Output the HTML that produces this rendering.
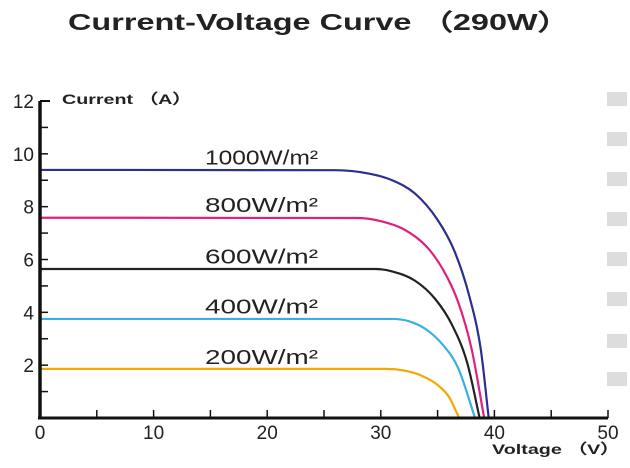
<!DOCTYPE html>
<html><head><meta charset="utf-8"><style>
body{margin:0;background:#fff;width:630px;height:463px;overflow:hidden;font-family:"Liberation Sans",Arial,sans-serif}
</style></head><body>
<svg width="630" height="463" xmlns="http://www.w3.org/2000/svg" id="chart">
<text x="319" y="30" text-anchor="middle" font-size="23" font-weight="bold" fill="#222" textLength="502" lengthAdjust="spacingAndGlyphs">Current-Voltage Curve （290W）</text>
<g fill="#ddd">
<rect x="607" y="92" width="20" height="14"/><rect x="607" y="132" width="20" height="14"/><rect x="607" y="172" width="20" height="14"/><rect x="607" y="212" width="20" height="14"/><rect x="607" y="252" width="20" height="14"/><rect x="607" y="292" width="20" height="14"/><rect x="607" y="334" width="20" height="14"/><rect x="607" y="372" width="20" height="14"/>
</g>
</svg>
<script>
const xTicks=[0,10,20,30,40,50];
const yTicks=[2,4,6,8,10,12];
const seriesNames=["1000W/m²","800W/m²","600W/m²","400W/m²","200W/m²"];
const seriesColors=["#2b2f8f","#e0217a","#222222","#3ab0e2","#f5a800"];
const v1000=[0,26,29,31,33,35,36.5,37.8,38.8,39.5];
const i1000=[9.39,9.38,9.25,9.0,8.5,7.5,6.3,4.6,2.6,0];
const v800=[0,28,30,32,34,35.5,36.8,38,39.1];
const i800=[7.58,7.57,7.45,7.15,6.5,5.6,4.4,2.6,0];
const v600=[0,29.5,31,33,34.8,36.3,37.6,38.7];
const i600=[5.64,5.64,5.55,5.2,4.5,3.5,2.1,0];
const v400=[0,31,32.5,34,35.5,36.8,38.3];
const i400=[3.75,3.75,3.66,3.35,2.75,1.9,0];
const v200=[0,30.5,32,33.5,35,36,36.9];
const i200=[1.86,1.86,1.8,1.62,1.25,0.8,0];
const allV=[v1000,v800,v600,v400,v200];
const allI=[i1000,i800,i600,i400,i200];
const labelV=[19.5,19.5,19.5,19.5,19.5];
const labelI=[9.6,7.8,5.85,3.95,2.05];

const X0=40,X1=608,Y0=418,Y1=101;
const sx=v=>X0+(X1-X0)*v/50;
const sy=i=>Y0-(Y0-Y1)*i/12;
const svg=document.getElementById('chart');
const NS='http://www.w3.org/2000/svg';
function mk(t,a){const e=document.createElementNS(NS,t);for(const k in a)e.setAttribute(k,a[k]);svg.appendChild(e);return e;}
function path(vs,is){
  // monotone cubic Hermite (Fritsch-Carlson) in pixel space
  const x=vs.map(sx),y=is.map(sy),n=x.length;
  const d=[],m=[];
  for(let k=0;k<n-1;k++)d.push((y[k+1]-y[k])/(x[k+1]-x[k]));
  m[0]=d[0];m[n-1]=d[n-2];
  for(let k=1;k<n-1;k++)m[k]=(d[k-1]*d[k]<=0)?0:(d[k-1]+d[k])/2;
  for(let k=0;k<n-1;k++){
    if(d[k]===0){m[k]=0;m[k+1]=0;continue;}
    const a=m[k]/d[k],b=m[k+1]/d[k],s=a*a+b*b;
    if(s>9){const t=3/Math.sqrt(s);m[k]=t*a*d[k];m[k+1]=t*b*d[k];}
  }
  let p='M'+x[0]+','+y[0];
  for(let k=0;k<n-1;k++){
    const h=(x[k+1]-x[k])/3;
    p+=' C'+(x[k]+h)+','+(y[k]+m[k]*h)+' '+(x[k+1]-h)+','+(y[k+1]-m[k+1]*h)+' '+x[k+1]+','+y[k+1];
  }
  return p;
}
allV.forEach((vs,s)=>{
  const c=mk('path',{d:path(vs,allI[s]),fill:'none',stroke:seriesColors[s],'stroke-width':2.2});
  
  
  const len=seriesNames[s].length>8?127:113;
  const t=mk('text',{x:sx(labelV[s]),y:sy(labelI[s]),'text-anchor':'middle','font-size':20,fill:'#222',textLength:len,lengthAdjust:'spacingAndGlyphs'});
  t.textContent=seriesNames[s];
  
  
});
const ya=mk('line',{x1:X0,y1:Y1,x2:X0,y2:Y0+1,stroke:'#111','stroke-width':3.5});


const xa=mk('line',{x1:X0-2,y1:Y0,x2:X1,y2:Y0,stroke:'#111','stroke-width':3});


mk('line',{x1:X0,y1:Y1,x2:X0+10,y2:Y1,stroke:'#111','stroke-width':2});
for(let i=1;i<=12;i++){const l=mk('line',{x1:X0,y1:sy(i),x2:X0+8,y2:sy(i),stroke:'#111','stroke-width':1.5});}
for(let v=5;v<=50;v+=5){const l=mk('line',{x1:sx(v),y1:Y0,x2:sx(v),y2:Y0-8,stroke:'#111','stroke-width':1.5});}
yTicks.forEach(i=>{const t=mk('text',{x:X0-6,y:sy(i)+7,'text-anchor':'end','font-size':19,fill:'#222'});t.textContent=i;});
xTicks.forEach(v=>{const t=mk('text',{x:sx(v),y:Y0+21,'text-anchor':'middle','font-size':19,fill:'#222'});t.textContent=v;});
const yt=mk('text',{x:62,y:104,'font-size':14,'font-weight':'bold',fill:'#222',textLength:130,lengthAdjust:'spacingAndGlyphs'});yt.textContent='Current （A）';


const xt=mk('text',{x:492,y:454,'font-size':14,'font-weight':'bold',fill:'#222',textLength:128,lengthAdjust:'spacingAndGlyphs'});xt.textContent='Voltage （V）';


</script>
</body></html>
